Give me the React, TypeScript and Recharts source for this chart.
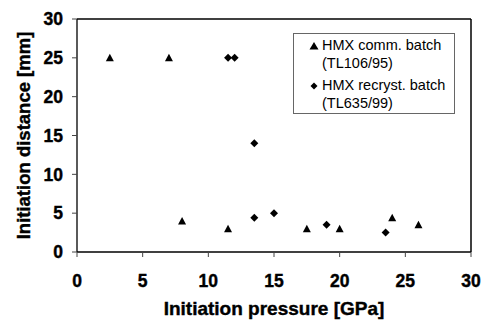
import React from "react";
import {
  ScatterChart,
  Scatter,
  XAxis,
  YAxis,
  ReferenceLine,
  Legend,
  Label,
} from "recharts";

const commPressure = [2.5, 7, 8, 11.5, 17.5, 20, 24, 26];
const commDistance = [25, 25, 4, 3, 3, 3, 4.4, 3.5];
const recrPressure = [11.5, 12, 13.5, 13.5, 15, 19, 23.5];
const recrDistance = [25, 25, 14, 4.4, 5, 3.5, 2.5];
const axisTicks = [0, 5, 10, 15, 20, 25, 30];

const commData = commPressure.map((x, i) => ({ x, y: commDistance[i] }));
const recrData = recrPressure.map((x, i) => ({ x, y: recrDistance[i] }));

const FONT = "'Liberation Sans', Arial, sans-serif";

const Triangle = (props: any) => {
  const { cx, cy } = props;
  if (cx == null || cy == null) return null;
  return (
    <polygon
      points={`${cx - 4},${cy + 3.5} ${cx + 4},${cy + 3.5} ${cx},${cy - 4}`}
      fill="#000"
    />
  );
};

const Diamond = (props: any) => {
  const { cx, cy } = props;
  if (cx == null || cy == null) return null;
  return (
    <polygon
      points={`${cx},${cy - 4} ${cx + 4},${cy} ${cx},${cy + 4} ${cx - 4},${cy}`}
      fill="#000"
    />
  );
};

// heavy bold text like the scanned original
const boldText = {
  fontFamily: FONT,
  fontWeight: "bold",
  fill: "#000",
  stroke: "#000",
  strokeWidth: 0.4,
};

const XTick = (props: any) => {
  const { x, payload } = props;
  return (
    <text x={x} y={287} textAnchor="middle" fontSize={17.5} {...boldText}>
      {payload.value}
    </text>
  );
};

const YTick = (props: any) => {
  const { y, payload } = props;
  return (
    <text x={63} y={y} dy="0.36em" textAnchor="end" fontSize={17.5} {...boldText}>
      {payload.value}
    </text>
  );
};

const LegendBox = () => (
  <div
    style={{
      width: 162,
      height: 81,
      border: "1px solid #666",
      background: "#fff",
      fontFamily: FONT,
      fontSize: 14.5,
      color: "#000",
      lineHeight: "18px",
      boxSizing: "border-box",
      paddingTop: 2,
    }}
  >
    <div style={{ position: "relative", paddingLeft: 28 }}>
      <svg width={10} height={10} style={{ position: "absolute", left: 15, top: 5 }}>
        <polygon points="0.5,8.5 9.5,8.5 5,1" fill="#000" />
      </svg>
      HMX comm. batch
      <br />
      (TL106/95)
    </div>
    <div style={{ position: "relative", paddingLeft: 28, marginTop: 4 }}>
      <svg width={10} height={10} style={{ position: "absolute", left: 15, top: 5 }}>
        <polygon points="5,1.5 8.5,5 5,8.5 1.5,5" fill="#000" />
      </svg>
      HMX recryst. batch
      <br />
      (TL635/99)
    </div>
  </div>
);

export default function App() {
  return (
    <div style={{ position: "absolute", left: 0, top: 0, background: "#fff" }}>
      <ScatterChart
        width={483}
        height={320}
        margin={{ top: 19, right: 12, bottom: 0, left: 0 }}
      >
        <XAxis
          type="number"
          dataKey="x"
          domain={[0, 30]}
          ticks={axisTicks}
          height={68}
          axisLine={{ stroke: "#000", strokeWidth: 1.3 }}
          tickLine={{ stroke: "#444" }}
          tickSize={5}
          tick={<XTick />}
          interval={0}
        >
          <Label
            content={({ viewBox }: any) => (
              <text
                x={viewBox.x + viewBox.width / 2}
                y={315}
                textAnchor="middle"
                fontSize={19}
                {...boldText}
              >
                Initiation pressure [GPa]
              </text>
            )}
          />
        </XAxis>
        <YAxis
          type="number"
          dataKey="y"
          domain={[0, 30]}
          ticks={axisTicks}
          width={77}
          axisLine={{ stroke: "#000", strokeWidth: 1.3 }}
          tickLine={{ stroke: "#444" }}
          tickSize={5}
          tick={<YTick />}
          interval={0}
        >
          <Label
            content={({ viewBox }: any) => {
              const cy = viewBox.y + viewBox.height / 2;
              return (
                <text
                  x={30}
                  y={cy}
                  transform={`rotate(-90, 30, ${cy})`}
                  textAnchor="middle"
                  fontSize={18.5}
                  {...boldText}
                >
                  Initiation distance [mm]
                </text>
              );
            }}
          />
        </YAxis>
        <ReferenceLine y={30} stroke="#000" strokeWidth={1.5} />
        <ReferenceLine x={30} stroke="#000" strokeWidth={1.5} />
        <Scatter
          name="HMX comm. batch (TL106/95)"
          data={commData}
          shape={Triangle}
          isAnimationActive={false}
        />
        <Scatter
          name="HMX recryst. batch (TL635/99)"
          data={recrData}
          shape={Diamond}
          isAnimationActive={false}
        />
        <Legend
          layout="vertical"
          align="center"
          verticalAlign="middle"
          content={() => <LegendBox />}
          wrapperStyle={{ left: 293, top: 33, width: 162 }}
        />
      </ScatterChart>
    </div>
  );
}
